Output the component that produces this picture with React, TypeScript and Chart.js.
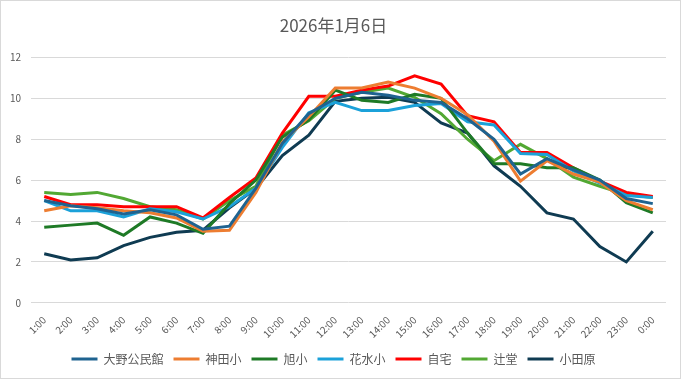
import React, { useEffect, useRef } from "react";
import { Chart, registerables } from "chart.js";

Chart.register(...registerables);

const labels = ["1:00","2:00","3:00","4:00","5:00","6:00","7:00","8:00","9:00","10:00","11:00","12:00","13:00","14:00","15:00","16:00","17:00","18:00","19:00","20:00","21:00","22:00","23:00","0:00"];

const ohno = [5.0, 4.75, 4.6, 4.35, 4.55, 4.3, 3.6, 3.75, 5.6, 7.8, 9.25, 10.0, 10.3, 10.15, 9.9, 9.8, 9.0, 8.0, 6.3, 7.05, 6.5, 6.0, 5.1, 4.85];
const kanda = [4.5, 4.75, 4.65, 4.5, 4.4, 4.15, 3.5, 3.55, 5.4, 7.85, 9.1, 10.5, 10.5, 10.8, 10.5, 10.0, 9.2, 7.9, 5.95, 6.95, 6.3, 5.9, 5.0, 4.55];
const asahi = [3.7, 3.8, 3.9, 3.3, 4.2, 3.9, 3.4, 4.85, 6.0, 8.1, 8.95, 10.4, 9.9, 9.8, 10.2, 10.0, 8.3, 6.8, 6.8, 6.6, 6.6, 6.0, 4.9, 4.4];
const hanamizu = [5.0, 4.5, 4.5, 4.2, 4.6, 4.45, 4.1, 4.7, 5.6, 7.6, 9.3, 9.8, 9.4, 9.4, 9.65, 9.75, 8.85, 8.7, 7.3, 7.25, 6.45, 5.85, 5.25, 5.15];
const jitaku = [5.2, 4.8, 4.8, 4.7, 4.7, 4.7, 4.15, 5.15, 6.1, 8.3, 10.1, 10.1, 10.4, 10.6, 11.1, 10.7, 9.15, 8.85, 7.35, 7.35, 6.6, 5.95, 5.4, 5.2];
const tsujido = [5.4, 5.3, 5.4, 5.1, 4.7, 4.55, 4.1, 5.0, 5.7, 8.2, 8.9, 10.0, 10.3, 10.5, 10.05, 9.25, 8.0, 6.95, 7.75, 7.05, 6.15, 5.7, 5.3, 5.15];
const odawara = [2.4, 2.1, 2.2, 2.8, 3.2, 3.45, 3.55, 4.65, 5.6, 7.2, 8.2, 9.85, 10.0, 10.05, 9.8, 8.8, 8.3, 6.7, 5.7, 4.4, 4.1, 2.75, 2.0, 3.5];

const seriesNames = ["大野公民館", "神田小", "旭小", "花水小", "自宅", "辻堂", "小田原"];
const seriesColors = ["#1F6390", "#ED7D31", "#1E7A26", "#1BA1D9", "#FF0000", "#52A833", "#0F3B52"];
const seriesData = [ohno, kanda, asahi, hanamizu, jitaku, tsujido, odawara];

const FONT = "'Noto Sans CJK JP', 'Noto Sans', sans-serif";

export default function App() {
  const ref = useRef<HTMLCanvasElement | null>(null);
  useEffect(() => {
    document.body.style.margin = "0";
    const ctx = ref.current!;
    const chart = new Chart(ctx, {
      type: "line",
      data: {
        labels,
        datasets: seriesNames.map((name, i) => ({
          label: name,
          data: seriesData[i],
          borderColor: seriesColors[i],
          backgroundColor: seriesColors[i],
          borderWidth: 3,
          pointRadius: 0,
          tension: 0,
          fill: false,
        })),
      },
      options: {
        animation: false,
        responsive: true,
        maintainAspectRatio: false,
        layout: { padding: { left: 0, right: 14, top: 8, bottom: 3 } },
        plugins: {
          title: {
            display: true,
            text: "2026年1月6日",
            color: "#595959",
            font: { family: FONT, size: 17, weight: "normal" },
            padding: { top: 6, bottom: 22 },
          },
          legend: {
            position: "bottom",
            labels: {
              color: "#595959",
              font: { family: FONT, size: 12 },
              usePointStyle: true,
              pointStyle: "line",
              pointStyleWidth: 26,
              boxWidth: 26,
              padding: 10,
            },
          },
          tooltip: { enabled: false },
        },
        scales: {
          x: {
            offset: true,
            grid: { display: false },
            border: { display: false },
            ticks: {
              color: "#595959",
              font: { family: FONT, size: 10 },
              maxRotation: 45,
              minRotation: 45,
              autoSkip: false,
            },
          },
          y: {
            min: 0,
            max: 12,
            afterFit: (s: any) => { s.width = 30; },
            ticks: {
              stepSize: 2,
              color: "#595959",
              font: { family: FONT, size: 10 },
              padding: 10,
            },
            grid: { color: "#D9D9D9", drawTicks: false, lineWidth: 1 },
            border: { display: false },
          },
        },
      },
    });
    return () => chart.destroy();
  }, []);
  return (
    <div style={{ width: 681, height: 379, boxSizing: "border-box", border: "1px solid #D9D9D9", background: "#fff", position: "relative" }}>
      <canvas ref={ref} />
    </div>
  );
}
